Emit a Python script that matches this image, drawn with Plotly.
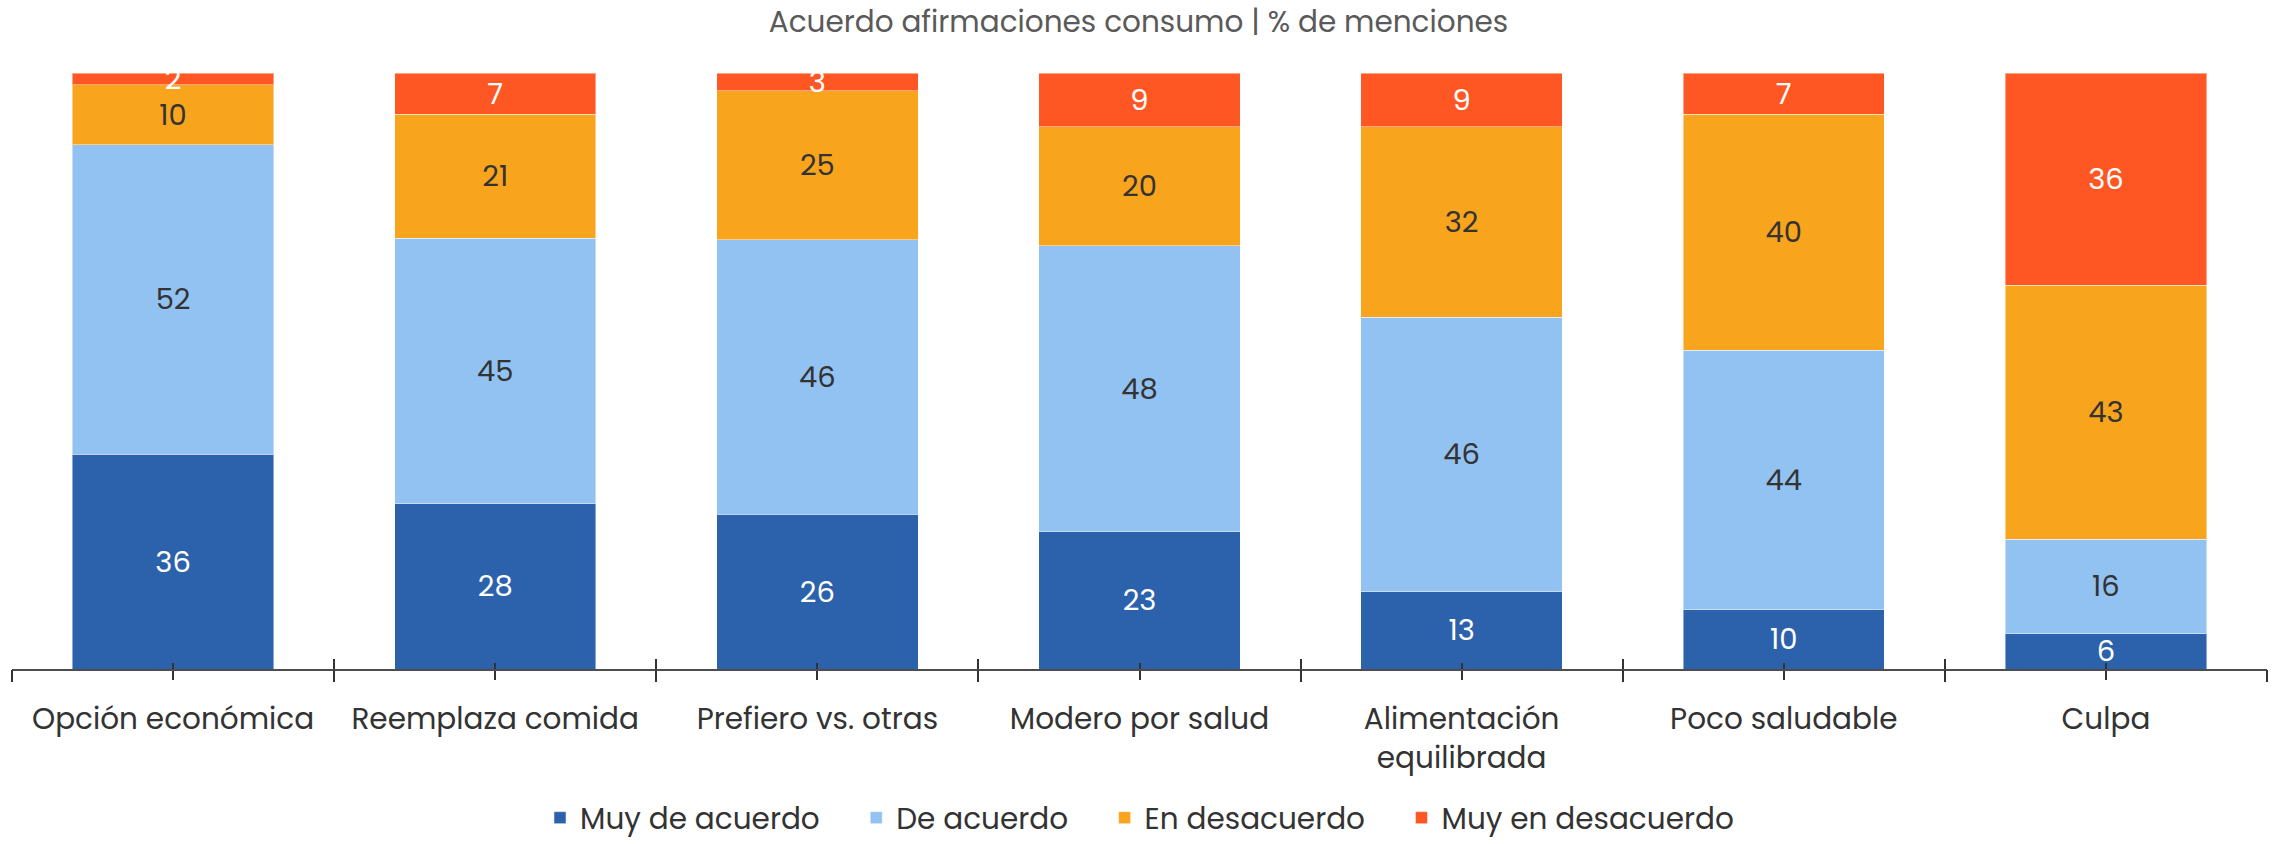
import plotly.graph_objects as go

categories = ["Opción económica", "Reemplaza comida", "Prefiero vs. otras", "Modero por salud",
              "Alimentación<br>equilibrada", "Poco saludable", "Culpa"]
muy_de_acuerdo = [36, 28, 26, 23, 13, 10, 6]
de_acuerdo = [52, 45, 46, 48, 46, 44, 16]
en_desacuerdo = [10, 21, 25, 20, 32, 40, 43]
muy_en_desacuerdo = [2, 7, 3, 9, 9, 7, 36]

NB = "\u00a0"
series = [
    ("Muy de acuerdo", muy_de_acuerdo, "#2C62AB", "#FFFFFF", 4),
    ("De acuerdo", de_acuerdo, "#92C2F2", "#333333", 4),
    ("En desacuerdo", en_desacuerdo, "#F9A41D", "#333333", 4),
    ("Muy en desacuerdo", muy_en_desacuerdo, "#FF5724", "#FFFFFF", 0),
]

FONT = "Poppins, Open Sans, sans-serif"

fig = go.Figure()
for name, vals, color, tcolor, pad in series:
    fig.add_trace(go.Bar(
        name=name + NB * pad, x=categories, y=vals,
        marker=dict(color=color, line=dict(color="rgba(255,255,255,0.45)", width=1)),
        text=vals, textposition="inside", insidetextanchor="middle", textangle=0,
        constraintext="none",
        textfont=dict(color=tcolor, size=29, family=FONT),
        hoverinfo="skip",
    ))

n = len(categories)
bounds = [i - 0.5 for i in range(n + 1)]
centers = list(range(n))

# invisible helper traces so the overlay tick axes are drawn
for ax in ["x2", "x3", "x4"]:
    fig.add_trace(go.Scatter(x=[-0.5, n - 0.5], y=[0, 0], xaxis=ax, mode="markers",
                             marker=dict(opacity=0), showlegend=False, hoverinfo="skip"))

fig.update_layout(
    width=2277, height=844,
    barmode="stack", barnorm="percent", bargap=0.375,
    plot_bgcolor="white", paper_bgcolor="white",
    margin=dict(l=12, r=10, t=73, b=175),
    font=dict(family=FONT, color="#333333", size=29.5),
    title=dict(text="Acuerdo afirmaciones consumo | % de menciones", x=0.5, xanchor="center",
               y=1 - 22 / 844, yanchor="middle", yref="container",
               font=dict(size=29.5, color="#5a5a5a", family=FONT)),
    xaxis=dict(type="category", showline=True, linecolor="#4d4d4d", linewidth=2,
               ticks="outside", ticklen=9, tickwidth=2, tickcolor="#333333",
               ticklabelstandoff=14, tickfont=dict(size=29.5, color="#333333"),
               showgrid=False, zeroline=False, range=[-0.5, n - 0.5]),
    xaxis2=dict(overlaying="x", anchor="y", range=[-0.5, n - 0.5], tickvals=bounds,
                ticks="outside", ticklen=12, tickwidth=2, tickcolor="#333333",
                showticklabels=False, showgrid=False, zeroline=False, showline=False),
    xaxis3=dict(overlaying="x", anchor="y", range=[-0.5, n - 0.5], tickvals=bounds,
                ticks="inside", ticklen=10, tickwidth=2, tickcolor="#333333",
                showticklabels=False, showgrid=False, zeroline=False, showline=False),
    xaxis4=dict(overlaying="x", anchor="y", range=[-0.5, n - 0.5], tickvals=centers,
                ticks="inside", ticklen=6, tickwidth=2, tickcolor="#333333",
                showticklabels=False, showgrid=False, zeroline=False, showline=False),
    yaxis=dict(range=[0, 100], visible=False, showgrid=False, zeroline=False),
    legend=dict(orientation="h", x=0.5, xanchor="center", y=-0.006, yanchor="bottom",
                yref="container", font=dict(size=29.5, color="#333333", family=FONT),
                traceorder="normal", itemwidth=30),
    showlegend=True,
)

fig.write_html("out.html", post_script="document.body.style.margin='0';",
               config={"displayModeBar": False})
